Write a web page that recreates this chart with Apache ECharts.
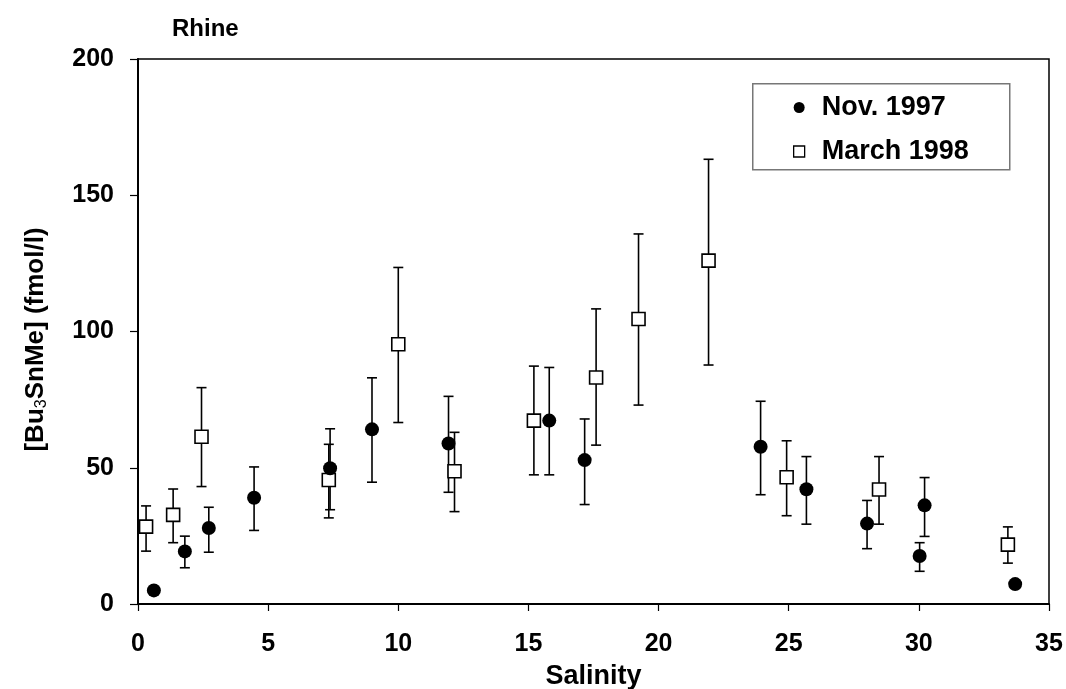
<!DOCTYPE html>
<html>
<head>
<meta charset="utf-8">
<script src="https://cdn.jsdelivr.net/npm/echarts@6/dist/echarts.min.js"></script>
<style>html,body{margin:0;padding:0;background:#fff}#c{width:1066px;height:689px}</style>
</head>
<body>
<div id="c"></div>
<script>
// Nov. 1997 (filled circles)
var novX  = [0.61, 1.80, 2.72, 4.46, 7.38, 8.99, 11.93, 15.80, 17.16, 23.92, 25.68, 28.01, 30.03, 30.22, 33.70];
var novY  = [5.0, 19.3, 27.9, 39.0, 49.8, 64.1, 58.9, 67.3, 52.8, 57.7, 42.1, 29.5, 17.6, 36.2, 7.3];
var novHi = [null, 24.9, 35.5, 50.3, 64.3, 83.0, 76.2, 86.8, 67.9, 74.4, 54.1, 38.0, 22.5, 46.4, null];
var novLo = [null, 13.3, 19.0, 27.0, 34.6, 44.7, 41.0, 47.4, 36.5, 40.1, 29.3, 20.3, 12.0, 24.8, null];
// March 1998 (open squares)
var marX  = [0.31, 1.35, 2.44, 7.33, 10.0, 12.16, 15.21, 17.60, 19.23, 21.92, 24.92, 28.47, 33.42];
var marY  = [28.4, 32.7, 61.4, 45.5, 95.3, 48.7, 67.3, 83.1, 104.6, 126.0, 46.5, 42.0, 21.8];
var marHi = [36.0, 42.2, 79.4, 58.6, 123.5, 63.0, 87.3, 108.3, 135.8, 163.2, 59.9, 54.1, 28.3];
var marLo = [19.4, 22.5, 43.1, 31.6, 66.6, 33.9, 47.4, 58.3, 73.0, 87.7, 32.4, 29.3, 15.0];

var xTicks = [0, 5, 10, 15, 20, 25, 30, 35];
var yTicks = [0, 50, 100, 150, 200];
var seriesNames = ['Nov. 1997', 'March 1998'];

function pts(xs, ys) { return xs.map(function (x, i) { return [x, ys[i]]; }); }
function bars(xs, lo, hi) {
  var out = [];
  xs.forEach(function (x, i) { if (lo[i] != null && hi[i] != null) out.push([x, lo[i], hi[i]]); });
  return out;
}
function errRender(params, api) {
  var x = api.value(0), lo = api.value(1), hi = api.value(2);
  var pLo = api.coord([x, lo]), pHi = api.coord([x, hi]);
  var w = 5;
  var st = { stroke: '#000', lineWidth: 1.6 };
  return { type: 'group', children: [
    { type: 'line', shape: { x1: pLo[0], y1: pLo[1], x2: pHi[0], y2: pHi[1] }, style: st },
    { type: 'line', shape: { x1: pHi[0] - w, y1: pHi[1], x2: pHi[0] + w, y2: pHi[1] }, style: st },
    { type: 'line', shape: { x1: pLo[0] - w, y1: pLo[1], x2: pLo[0] + w, y2: pLo[1] }, style: st }
  ]};
}

var FONT = '"Liberation Sans", Arial, sans-serif';
var chart = echarts.init(document.getElementById('c'), null, { renderer: 'canvas' });
chart.setOption({
  backgroundColor: '#fff',
  animation: false,
  title: { text: 'Rhine', left: 167, top: 12,
    textStyle: { fontFamily: FONT, fontSize: 24, fontWeight: 'bold', color: '#000' } },
  grid: { left: 138, right: 17, top: 59, bottom: 85, containLabel: false, outerBoundsMode: 'none',
    show: true, borderColor: '#000', borderWidth: 1.5, backgroundColor: 'transparent' },
  legend: {
    orient: 'vertical', left: 788, top: 89, itemGap: 17, itemWidth: 11, itemHeight: 11,
    textStyle: { fontFamily: FONT, fontSize: 27, fontWeight: 'bold', color: '#000', padding: [0, 0, 0, 12] },
    data: [
      { name: seriesNames[0], icon: 'circle', itemStyle: { color: '#000', borderWidth: 0 } },
      { name: seriesNames[1], icon: 'rect', itemStyle: { color: '#fff', borderColor: '#000', borderWidth: 1.3 } }
    ]
  },
  graphic: [
    { type: 'rect', left: 752, top: 83, shape: { width: 257, height: 86 },
      style: { fill: 'transparent', stroke: '#777', lineWidth: 1.5 }, z: 10 }
  ],
  xAxis: {
    type: 'value', min: 0, max: 35, interval: 5,
    name: 'Salinity', nameLocation: 'middle', nameGap: 59,
    nameTextStyle: { fontFamily: FONT, fontSize: 27, fontWeight: 'bold', color: '#000' },
    axisLine: { show: true, onZero: false, lineStyle: { color: '#000', width: 2 } },
    axisTick: { show: true, inside: false, length: 7, lineStyle: { color: '#000', width: 1.2 } },
    axisLabel: { margin: 28, fontFamily: FONT, fontSize: 25, fontWeight: 'bold', color: '#000',
      formatter: function (v) { return xTicks.indexOf(v) >= 0 ? String(v) : ''; } },
    splitLine: { show: false }
  },
  yAxis: {
    type: 'value', min: 0, max: 200, interval: 50,
    name: '[Bu{sub|3}SnMe] (fmol/l)', nameLocation: 'middle', nameGap: 88, nameRotate: 90,
    nameTextStyle: { fontFamily: FONT, fontSize: 26, fontWeight: 'bold', color: '#000', padding: [0, 16, 0, 0],
      rich: { sub: { fontFamily: FONT, fontSize: 16, fontWeight: 'normal', color: '#000', padding: [12, 0, 0, 0] } } },
    axisLine: { show: true, onZero: false, lineStyle: { color: '#000', width: 2 } },
    axisTick: { show: true, inside: false, length: 8, lineStyle: { color: '#000', width: 1.2 } },
    axisLabel: { margin: 24, fontFamily: FONT, fontSize: 25, fontWeight: 'bold', color: '#000',
      formatter: function (v) { return yTicks.indexOf(v) >= 0 ? String(v) : ''; } },
    splitLine: { show: false }
  },
  series: [
    { name: seriesNames[0] + ' err', type: 'custom', renderItem: errRender, data: bars(novX, novLo, novHi), z: 2, silent: true },
    { name: seriesNames[1] + ' err', type: 'custom', renderItem: errRender, data: bars(marX, marLo, marHi), z: 2, silent: true },
    { name: seriesNames[1], type: 'scatter', symbol: 'rect', symbolSize: 13, data: pts(marX, marY), z: 3,
      itemStyle: { color: '#fff', borderColor: '#000', borderWidth: 1.6, opacity: 1 } },
    { name: seriesNames[0], type: 'scatter', symbol: 'circle', symbolSize: 14, data: pts(novX, novY), z: 4,
      itemStyle: { color: '#000', opacity: 1 } }
  ]
});
</script>
</body>
</html>
